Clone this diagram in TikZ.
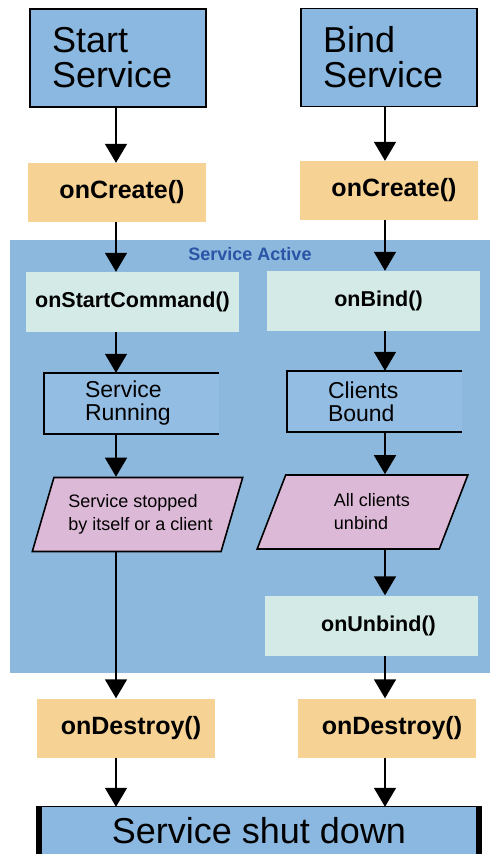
\documentclass[tikz,border=0pt]{standalone}
\usepackage{fontspec}
\setmainfont{Liberation Sans}
\usetikzlibrary{positioning}
\usetikzlibrary{shapes.geometric}
\usetikzlibrary{arrows.meta}

\definecolor{boxblue}{RGB}{139,184,224}
\definecolor{stateblue}{RGB}{148,189,227}
\definecolor{activeblue}{RGB}{140,184,222}
\definecolor{activetext}{RGB}{42,84,166}
\definecolor{callorange}{RGB}{246,210,149}
\definecolor{cmdteal}{RGB}{211,234,230}
\definecolor{decpink}{RGB}{221,185,216}

\tikzset{
	servicebox/.style={draw, line width=1.6pt, fill=boxblue, inner xsep=22pt, inner ysep=0pt, text width=132pt, minimum height=98pt, align=left, font=\fontsize{36}{35}\selectfont},
	callbox/.style={fill=callorange, inner sep=0pt, minimum width=178pt, minimum height=59pt, font=\bfseries\fontsize{25}{30}\selectfont, execute at begin node=\hspace*{10pt}},
	cmdbox/.style={fill=cmdteal, inner sep=0pt, minimum width=213pt, minimum height=60pt, font=\bfseries\fontsize{21.5}{26}\selectfont},
	statebox/.style={fill=stateblue, inner xsep=41pt, inner ysep=0pt, text width=93pt, minimum height=61pt, align=left, font=\fontsize{23}{23}\selectfont},
	decision/.style={trapezium, trapezium left angle=64, trapezium right angle=116, trapezium stretches=true, draw, line width=1.6pt, fill=decpink, inner sep=0pt, minimum width=211pt, minimum height=74pt, align=left, font=\fontsize{18}{23}\selectfont},
	flow/.style={line width=1.6pt, -{Triangle[width=22pt,length=19pt]}}
}

\begin{document}
\begin{tikzpicture}[x=1pt, y=-1pt]
	\useasboundingbox (0,0) rectangle (490,854);
	\coordinate (colL) at (116,0);
	\coordinate (colR) at (385,0);
	% service active area
	\node[fill=activeblue, inner sep=0pt, minimum width=480pt, minimum height=433pt] (active) at (250,456.5) {};
	\node[text=activetext, font=\bfseries\fontsize{18}{20}\selectfont] (activelabel) at (250,254) {Service Active};
	% left: started service
	\node[servicebox] (start) at (118,58) {Start\\Service};
	\node[callbox] (create1) at (117,192.5) {onCreate()};
	\node[cmdbox] (startcmd) at (132.5,302) {onStartCommand()};
	\node[statebox] (running) at (131.5,403.5) {Service\\Running};
	\draw[line width=1.6pt] (running.north east) -- (running.north west) -- (running.south west) -- (running.south east);
	\node[decision] (stopped) at (137.5,514.5) {\hspace*{6pt}Service stopped\\\hspace*{6pt}by itself or a client};
	\node[callbox] (destroy1) at (126,728) {onDestroy()};
	% right: bound service
	\node[servicebox] (bind) at (389,57.5) {Bind\\Service};
	\node[callbox] (create2) at (389,190.5) {onCreate()};
	\node[cmdbox] (onbind) at (373.5,301) {\hspace*{10pt}onBind()};
	\node[statebox] (bound) at (374.5,401.5) {Clients\\Bound};
	\draw[line width=1.6pt] (bound.north east) -- (bound.north west) -- (bound.south west) -- (bound.south east);
	\node[decision] (unbind) at (362.5,512) {\hspace*{19pt}All clients\\\hspace*{19pt}unbind};
	\node[cmdbox] (onunbind) at (371.5,625.5) {\hspace*{14pt}onUnbind()};
	\node[callbox] (destroy2) at (387,728) {onDestroy()};
	% shut down
	\node[fill=boxblue, inner sep=0pt, minimum width=446pt, minimum height=47pt, font=\fontsize{36}{35}\selectfont] (shut) at (259,830.5) {Service shut down};
	\draw[line width=1pt] (shut.north west) -- (shut.north east);
	\draw[line width=6pt] ([xshift=3pt]shut.north west) -- ([xshift=3pt]shut.south west);
	\draw[line width=6pt] ([xshift=-3pt]shut.north east) -- ([xshift=-3pt]shut.south east);
	% connectors
	\draw[flow] (start.south -| colL) -- (create1.north -| colL);
	\draw[flow] (create1.south -| colL) -- (startcmd.north -| colL);
	\draw[flow] (startcmd.south -| colL) -- (running.north -| colL);
	\draw[flow] (running.south -| colL) -- (stopped.north -| colL);
	\draw[flow] (stopped.south -| colL) -- (destroy1.north -| colL);
	\draw[flow] (destroy1.south -| colL) -- (shut.north -| colL);
	\draw[flow] (bind.south -| colR) -- (create2.north -| colR);
	\draw[flow] (create2.south -| colR) -- (onbind.north -| colR);
	\draw[flow] (onbind.south -| colR) -- (bound.north -| colR);
	\draw[flow] (bound.south -| colR) -- (unbind.north -| colR);
	\draw[flow] (unbind.south -| colR) -- (onunbind.north -| colR);
	\draw[flow] (onunbind.south -| colR) -- (destroy2.north -| colR);
	\draw[flow] (destroy2.south -| colR) -- (shut.north -| colR);
\end{tikzpicture}
\end{document}
